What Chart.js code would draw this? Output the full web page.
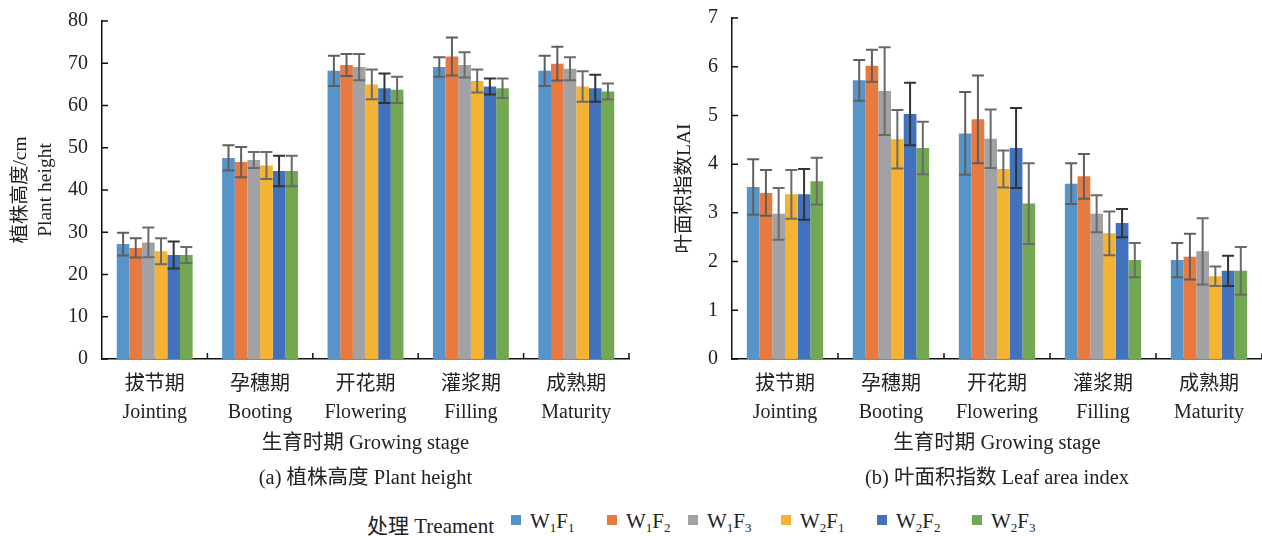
<!DOCTYPE html>
<html>
<head>
<meta charset="utf-8">
<script src="https://cdn.jsdelivr.net/npm/chart.js@4/dist/chart.umd.min.js"></script>
<style>
  body { margin: 0; background: #fff; width: 1262px; height: 536px; position: relative; overflow: hidden; }
  .box { position: absolute; top: 0; height: 500px; }
  #legend { position: absolute; top: 509px; left: 0; width: 1262px; height: 27px;
    font-family: "Liberation Serif", "Noto Sans CJK SC", serif; font-size: 21px; color: #222; }
  #legend span.it { position: absolute; top: 0; white-space: nowrap; }
  #legend i { display: inline-block; width: 10px; height: 10px; margin-right: 9px; vertical-align: 3px; }
  #legend sub { font-size: 13px; vertical-align: -4px; }
</style>
</head>
<body>
<div class="box" style="left:0;width:640px"><canvas id="c1"></canvas></div>
<div class="box" style="left:640px;width:622px"><canvas id="c2"></canvas></div>
<div id="legend"></div>
<script>
// categories
const stages = [['拔节期', 'Jointing'], ['孕穗期', 'Booting'], ['开花期', 'Flowering'], ['灌浆期', 'Filling'], ['成熟期', 'Maturity']];
const treatNames = ['W1F1', 'W1F2', 'W1F3', 'W2F1', 'W2F2', 'W2F3'];
const colors = ['#5694CA', '#E87A3F', '#A2A2A5', '#F5B334', '#4272BC', '#72A852'];
const errColors = ['#5f5f5f', '#5f5f5f', '#6a6a6a', '#6a6a6a', '#333333', '#6a6a6a'];

// (a) plant height, cm  (one array per treatment, one value per stage)
const heightW1F1 = [27.2, 47.6, 68.2, 69.1, 68.2];
const heightW1F2 = [26.3, 46.6, 69.6, 71.6, 69.9];
const heightW1F3 = [27.6, 47.1, 69.1, 69.6, 68.7];
const heightW2F1 = [25.5, 45.8, 65.0, 65.8, 64.5];
const heightW2F2 = [24.6, 44.5, 64.1, 64.5, 64.1];
const heightW2F3 = [24.6, 44.5, 63.7, 64.1, 63.3];
const heightErrW1F1 = [2.7, 3.0, 3.6, 2.3, 3.6];
const heightErrW1F2 = [2.3, 3.6, 2.6, 4.5, 4.0];
const heightErrW1F3 = [3.5, 1.9, 3.1, 3.0, 2.7];
const heightErrW2F1 = [3.1, 3.2, 3.5, 2.7, 3.6];
const heightErrW2F2 = [3.2, 3.6, 3.5, 1.9, 3.2];
const heightErrW2F3 = [1.9, 3.6, 3.1, 2.3, 1.9];

// (b) leaf area index
const laiW1F1 = [3.53, 5.72, 4.63, 3.60, 2.03];
const laiW1F2 = [3.41, 6.02, 4.92, 3.75, 2.10];
const laiW1F3 = [2.98, 5.50, 4.52, 2.98, 2.21];
const laiW2F1 = [3.38, 4.51, 3.90, 2.58, 1.70];
const laiW2F2 = [3.38, 5.03, 4.33, 2.79, 1.81];
const laiW2F3 = [3.65, 4.33, 3.19, 2.03, 1.81];
const laiErrW1F1 = [0.57, 0.42, 0.85, 0.42, 0.35];
const laiErrW1F2 = [0.47, 0.33, 0.90, 0.46, 0.47];
const laiErrW1F3 = [0.53, 0.90, 0.60, 0.38, 0.68];
const laiErrW2F1 = [0.50, 0.60, 0.38, 0.45, 0.20];
const laiErrW2F2 = [0.52, 0.64, 0.82, 0.29, 0.31];
const laiErrW2F3 = [0.48, 0.54, 0.83, 0.35, 0.49];

const heightTicks = [0, 10, 20, 30, 40, 50, 60, 70, 80];
const laiTicks = [0, 1, 2, 3, 4, 5, 6, 7];

const fontFam = '"Liberation Serif", "Noto Sans CJK SC", serif';

// error bars + inward tick marks, all from the chart's scales
const extras = {
  id: 'extras',
  afterDatasetsDraw(chart) {
    const ctx = chart.ctx;
    const ys = chart.scales.y, xs = chart.scales.x;
    const area = chart.chartArea;
    ctx.save();
    chart.data.datasets.forEach(function (ds, di) {
      const meta = chart.getDatasetMeta(di);
      ctx.strokeStyle = errColors[di];
      ctx.lineWidth = 2;
      meta.data.forEach(function (bar, i) {
        const v = ds.data[i], e = ds.err[i];
        const top = ys.getPixelForValue(v + e);
        const bot = ys.getPixelForValue(v - e);
        ctx.beginPath();
        ctx.moveTo(bar.x, top); ctx.lineTo(bar.x, bot);
        ctx.moveTo(bar.x - 6, top); ctx.lineTo(bar.x + 6, top);
        ctx.moveTo(bar.x - 6, bot); ctx.lineTo(bar.x + 6, bot);
        ctx.stroke();
      });
    });
    // inward ticks
    ctx.strokeStyle = '#111';
    ctx.lineWidth = 1.5;
    ctx.beginPath();
    ys.ticks.forEach(function (t) {
      const y = ys.getPixelForValue(t.value);
      ctx.moveTo(area.left, y); ctx.lineTo(area.left + 6, y);
    });
    const step = xs.getPixelForValue(1) - xs.getPixelForValue(0);
    for (let i = 1; i <= stages.length; i++) {
      const x = xs.getPixelForValue(i) - step / 2;
      ctx.moveTo(x, area.bottom); ctx.lineTo(x, area.bottom - 6);
    }
    ctx.stroke();
    ctx.restore();
  }
};

function makeChart(id, series, errs, ticks, yMax, yTitle, yTitlePad, yWidth, xTitle, top, right) {
  const datasets = series.map(function (s, i) {
    return {
      label: treatNames[i],
      data: s,
      err: errs[i],
      backgroundColor: colors[i],
      borderWidth: 0
    };
  });
  return new Chart(document.getElementById(id), {
    type: 'bar',
    data: { labels: stages, datasets: datasets },
    plugins: [extras],
    options: {
      responsive: true,
      maintainAspectRatio: false,
      animation: false,
      events: [],
      layout: { padding: { top: top, right: right, bottom: 0, left: 0 } },
      datasets: { bar: { barPercentage: 1, categoryPercentage: 0.72 } },
      plugins: { legend: { display: false }, tooltip: { enabled: false } },
      scales: {
        x: {
          grid: { display: false },
          border: { display: true, color: '#111', width: 1.5 },
          ticks: {
            color: '#222', padding: 4, maxRotation: 0, autoSkip: false,
            font: { family: fontFam, size: 20, lineHeight: '28px' }
          },
          title: {
            display: true, text: xTitle, color: '#222',
            padding: { top: 0, bottom: 4 },
            font: { family: fontFam, size: 20.5, lineHeight: '35px' }
          },
          afterFit: function (scale) { scale.height = 141; }
        },
        y: {
          min: 0, max: yMax,
          afterBuildTicks: function (scale) { scale.ticks = ticks.map(function (v) { return { value: v }; }); },
          grid: { display: false },
          border: { display: true, color: '#111', width: 1.5 },
          ticks: { color: '#222', padding: 6, font: { family: fontFam, size: 20 } },
          title: {
            display: true, text: yTitle, color: '#222',
            padding: { top: yTitlePad, bottom: 0 },
            font: { family: fontFam, size: 19.5, lineHeight: '25px' }
          },
          afterFit: function (scale) { scale.width = yWidth; }
        }
      }
    }
  });
}

makeChart('c1',
  [heightW1F1, heightW1F2, heightW1F3, heightW2F1, heightW2F2, heightW2F3],
  [heightErrW1F1, heightErrW1F2, heightErrW1F3, heightErrW2F1, heightErrW2F2, heightErrW2F3],
  heightTicks, 80, ['植株高度/cm', 'Plant height'], 8, 102,
  ['生育时期 Growing stage', '(a) 植株高度 Plant height'], 21, 11);

makeChart('c2',
  [laiW1F1, laiW1F2, laiW1F3, laiW2F1, laiW2F2, laiW2F3],
  [laiErrW1F1, laiErrW1F2, laiErrW1F3, laiErrW2F1, laiErrW2F2, laiErrW2F3],
  laiTicks, 7, '叶面积指数LAI', 32, 92,
  ['生育时期 Growing stage', '(b) 叶面积指数 Leaf area index'], 18, 0);

// legend (html so the subscripts stay real text)
const legendEl = document.getElementById('legend');
const legendX = [511, 607, 688, 781, 877, 972];
let head = document.createElement('span');
head.className = 'it';
head.style.left = '367px';
head.textContent = '处理 Treament';
legendEl.append(head);
treatNames.forEach(function (n, i) {
  let it = document.createElement('span');
  it.className = 'it';
  it.style.left = legendX[i] + 'px';
  it.innerHTML = '<i style="background:' + colors[i] + '"></i>W<sub>' + n[1] + '</sub>F<sub>' + n[3] + '</sub>';
  legendEl.append(it);
});
</script>
</body>
</html>
